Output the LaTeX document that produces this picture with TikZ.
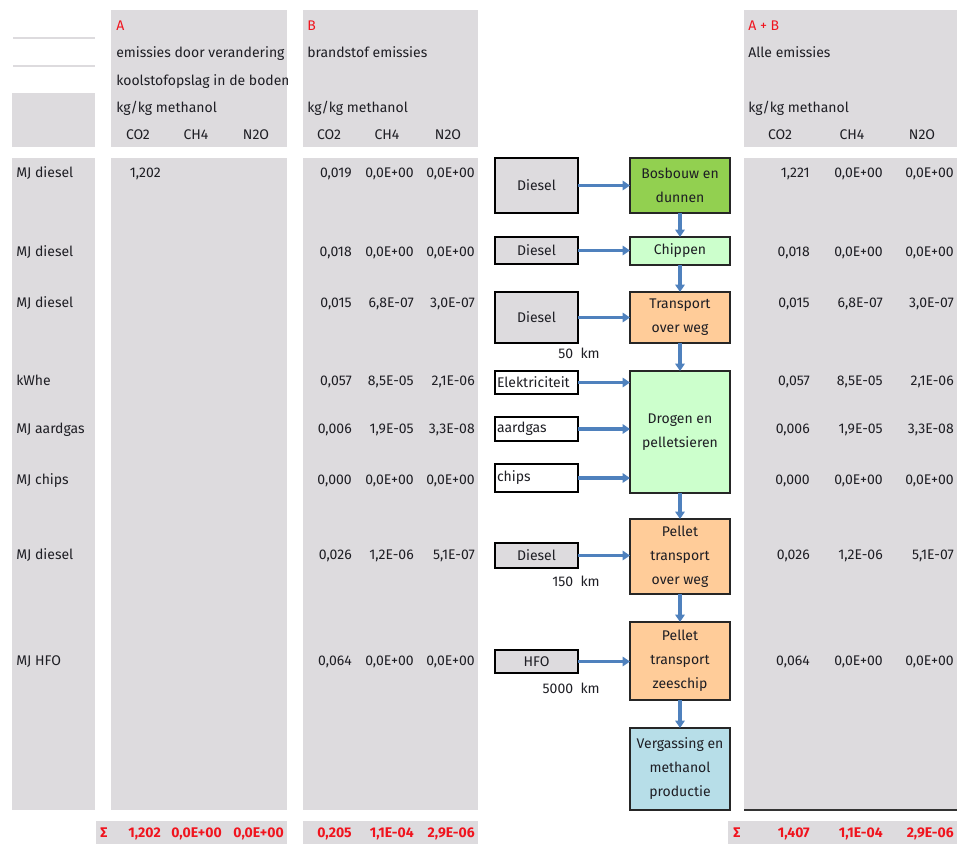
\documentclass[tikz,border=0pt]{standalone}
\usepackage{fontspec}
\setmainfont{Fira Sans}
\usetikzlibrary{arrows.meta}
\definecolor{panel}{RGB}{221,219,222}
\definecolor{ink}{RGB}{30,30,36}
\definecolor{flow}{RGB}{79,129,189}
\definecolor{forest}{RGB}{146,208,80}
\definecolor{palegreen}{RGB}{204,255,204}
\definecolor{peach}{RGB}{255,204,153}
\definecolor{paleblue}{RGB}{183,222,232}
\definecolor{sumred}{RGB}{240,20,30}
\begin{document}
\begin{tikzpicture}[x=0.75pt,y=-0.75pt,
  font=\fontsize{10.5}{12}\selectfont,
  lbl/.style={anchor=base west,inner sep=0pt,text=ink},
  num/.style={anchor=base east,inner sep=0pt,text=ink},
  hdr/.style={anchor=base,inner sep=0pt,text=ink},
  tot/.style={anchor=base east,inner sep=0pt,text=sumred,font=\fontsize{10.5}{12}\selectfont\bfseries},
  inbox/.style={draw=black,line width=0.9pt,fill=panel,inner sep=0pt,outer sep=0pt,
    minimum width={83*0.75pt},text=ink},
  inleft/.style={inbox,fill=white,text width=59.25pt,inner xsep=1.5pt,align=left},
  proc/.style={draw=black!85,line width=0.9pt,inner sep=0pt,outer sep=0pt,
    minimum width={100*0.75pt},align=center,text=ink,
    font=\fontsize{10.5}{18}\selectfont},
  feed/.style={draw=flow,line width=2.4pt,-{Triangle[length=5.5pt,width=7pt]}},
  dist/.style={anchor=base east,inner sep=0pt,text=ink}]
\useasboundingbox (0,0) rectangle (962,844);

% --- grey table panels -------------------------------------------------
\fill[panel] (12,93) rectangle (95,147);
\fill[panel] (12,158) rectangle (95,810);
\draw[panel,line width=1pt] (13,38) -- (95,38);
\draw[panel,line width=1pt] (13,66) -- (95,66);
\fill[panel] (111,10) rectangle (287,147);
\fill[panel] (111,158) rectangle (287,810);
\fill[panel] (303,10) rectangle (478,147);
\fill[panel] (303,158) rectangle (478,810);
\fill[panel] (744,10) rectangle (957,147);
\fill[panel] (744,158) rectangle (957,810);
\draw[black!80,line width=1pt] (744,810) -- (957,810);
\fill[panel] (96,821) rectangle (287,844);
\fill[panel] (303,821) rectangle (478,844);
\fill[panel] (728,821) rectangle (957,844);

% --- column headers ----------------------------------------------------
\node[lbl,text=sumred] (hA) at (116,30) {A};
\begin{scope}
  \clip (111,40) rectangle (287,95);
  \node[lbl] (hA1) at (116,57) {emissies door verandering};
  \node[lbl] (hA2) at (116,85) {koolstofopslag in de bodem};
\end{scope}
\node[lbl] (hA3) at (116,112) {kg/kg methanol};
\node[lbl,text=sumred] (hB) at (307,30) {B};
\node[lbl] (hB1) at (307,57) {brandstof emissies};
\node[lbl] (hB3) at (307,112) {kg/kg methanol};
\node[lbl,text=sumred] (hT) at (748,30) {A + B};
\node[lbl] (hT1) at (748,57) {Alle emissies};
\node[lbl] (hT3) at (748,112) {kg/kg methanol};
\foreach \x/\g [count=\i] in {138/CO2,196/CH4,256/N2O}
  \node[hdr] (ga\i) at (\x,139) {\g};
\foreach \x/\g [count=\i] in {329/CO2,387/CH4,448/N2O}
  \node[hdr] (gb\i) at (\x,139) {\g};
\foreach \x/\g [count=\i] in {780/CO2,852/CH4,922/N2O}
  \node[hdr] (gt\i) at (\x,139) {\g};

% --- table rows ----------------------------------------------------------
\foreach \y/\lab/\bc/\bh/\bn/\tc/\th/\tn [count=\i] in {
  173/MJ diesel/{0,019}/{0,0E+00}/{0,0E+00}/{1,221}/{0,0E+00}/{0,0E+00},
  252/MJ diesel/{0,018}/{0,0E+00}/{0,0E+00}/{0,018}/{0,0E+00}/{0,0E+00},
  303/MJ diesel/{0,015}/{6,8E-07}/{3,0E-07}/{0,015}/{6,8E-07}/{3,0E-07},
  381/kWhe/{0,057}/{8,5E-05}/{2,1E-06}/{0,057}/{8,5E-05}/{2,1E-06},
  429/MJ aardgas/{0,006}/{1,9E-05}/{3,3E-08}/{0,006}/{1,9E-05}/{3,3E-08},
  480/MJ chips/{0,000}/{0,0E+00}/{0,0E+00}/{0,000}/{0,0E+00}/{0,0E+00},
  555/MJ diesel/{0,026}/{1,2E-06}/{5,1E-07}/{0,026}/{1,2E-06}/{5,1E-07},
  661/MJ HFO/{0,064}/{0,0E+00}/{0,0E+00}/{0,064}/{0,0E+00}/{0,0E+00}} {
  \node[lbl] (row\i) at (16,\y+4) {\lab};
  \node[num] (bc\i) at (352,\y+4) {\bc};
  \node[num] (bh\i) at (414,\y+4) {\bh};
  \node[num] (bn\i) at (475,\y+4) {\bn};
  \node[num] (tc\i) at (810,\y+4) {\tc};
  \node[num] (th\i) at (883,\y+4) {\th};
  \node[num] (tn\i) at (954,\y+4) {\tn};
}
\node[num] (ac1) at (161,177) {1,202};

% --- totals --------------------------------------------------------------
\node[tot,anchor=base west] (sA) at (100,837) {Σ};
\node[tot] (sAc) at (161,837) {1,202};
\node[tot] (sAh) at (222,837) {0,0E+00};
\node[tot] (sAn) at (284,837) {0,0E+00};
\node[tot] (sBc) at (352,837) {0,205};
\node[tot] (sBh) at (414,837) {1,1E-04};
\node[tot] (sBn) at (475,837) {2,9E-06};
\node[tot,anchor=base west] (sT) at (733,837) {Σ};
\node[tot] (sTc) at (810,837) {1,407};
\node[tot] (sTh) at (883,837) {1,1E-04};
\node[tot] (sTn) at (954,837) {2,9E-06};

% --- process chain -------------------------------------------------------
\node[proc,fill=forest,minimum height={55*0.75pt}] (p1) at (680,185.5) {Bosbouw en\\dunnen};
\node[proc,fill=palegreen,minimum height={28*0.75pt}] (p2) at (680,251) {Chippen};
\node[proc,fill=peach,minimum height={51*0.75pt}] (p3) at (680,317.5) {Transport\\over weg};
\node[proc,fill=palegreen,minimum height={122*0.75pt}] (p4) at (680,432) {Drogen en\\pelletsieren};
\node[proc,fill=peach,minimum height={75*0.75pt}] (p5) at (680,556.5) {Pellet\\transport\\over weg};
\node[proc,fill=peach,minimum height={78*0.75pt}] (p6) at (680,661) {Pellet\\transport\\zeeschip};
\node[proc,fill=paleblue,minimum height={82*0.75pt}] (p7) at (680,769) {Vergassing en\\methanol\\productie};

% --- inputs ----------------------------------------------------------------
\node[inbox,minimum height={55*0.75pt}] (d1) at (536.5,185.5) {Diesel};
\node[inbox,minimum height={27*0.75pt}] (d2) at (536.5,250.5) {Diesel};
\node[inbox,minimum height={51*0.75pt}] (d3) at (536.5,317.5) {Diesel};
\node[inleft,minimum height={23*0.75pt}] (el) at (536.5,382.5) {Elektriciteit};
\node[inleft,minimum height={24*0.75pt}] (ag) at (536.5,429) {aardgas};
\node[inleft,minimum height={28*0.75pt}] (ch) at (536.5,478) {chips};
\node[inbox,minimum height={25*0.75pt}] (d4) at (536.5,555.5) {Diesel};
\node[inbox,minimum height={23*0.75pt}] (hfo) at (536.5,661.5) {HFO};

\node[dist] (k1) at (600,358) {50\ \ km};
\node[dist] (k2) at (600,586) {150\ \ km};
\node[dist] (k3) at (600,693) {5000\ \ km};

% --- flows -------------------------------------------------------------------
\foreach \a/\b in {d1/p1,d2/p2,d3/p3,el/p4,ag/p4,ch/p4,d4/p5,hfo/p6}
  \draw[feed] (\a.east) -- (\a.east -| \b.west);
\foreach \a/\b in {p1/p2,p2/p3,p3/p4,p4/p5,p5/p6,p6/p7}
  \draw[feed] (\a.south) -- (\b.north);
\end{tikzpicture}
\end{document}
